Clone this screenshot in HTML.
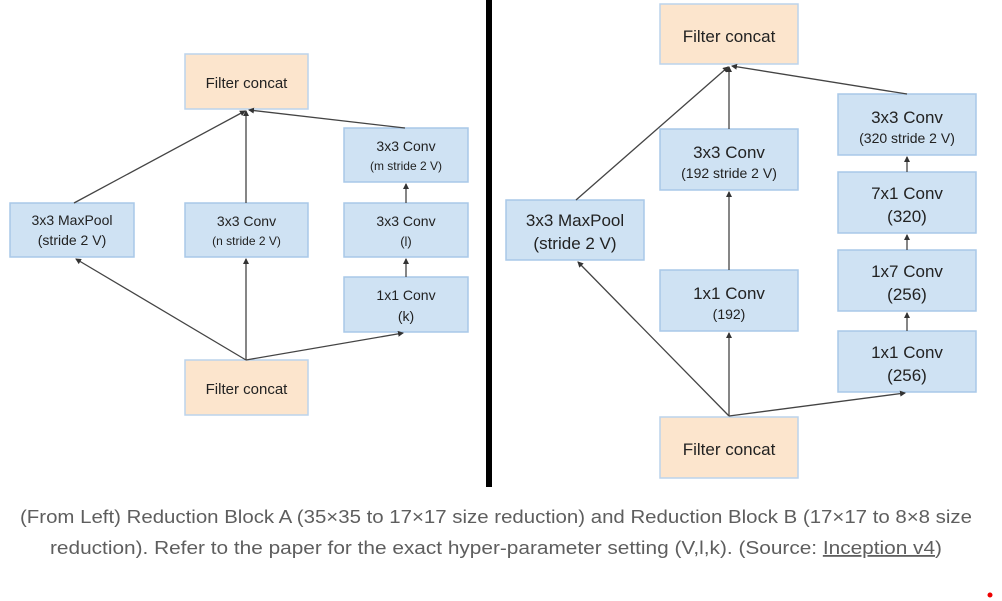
<!DOCTYPE html>
<html><head><meta charset="utf-8"><style>
html,body{margin:0;padding:0;background:#fff;}
svg{display:block;}
text{font-family:"Liberation Sans",Arial,sans-serif;fill:#222;}
.b{fill:#cfe2f3;stroke:#a9c8e8;stroke-width:1.5;}
.o{fill:#fce5cd;stroke:#bcd3ec;stroke-width:1.5;}
.l{stroke:#444;stroke-width:1.3;fill:none;marker-end:url(#a);}
</style></head><body>
<svg width="1002" height="601" viewBox="0 0 1002 601">
<defs><marker id="a" markerWidth="6" markerHeight="6" refX="5" refY="3" orient="auto" markerUnits="userSpaceOnUse"><path d="M0,0 L6,3 L0,6z" fill="#333"/></marker></defs>
<!-- LEFT -->
<rect class="o" x="185" y="54" width="123" height="55"/>
<text x="246.5" y="88" font-size="15" text-anchor="middle">Filter concat</text>
<rect class="b" x="10" y="203" width="124" height="54"/>
<text x="72" y="225" font-size="14" text-anchor="middle">3x3 MaxPool</text>
<text x="72" y="245" font-size="14" text-anchor="middle">(stride 2 V)</text>
<rect class="b" x="185" y="203" width="123" height="54"/>
<text x="246.5" y="226" font-size="14" text-anchor="middle">3x3 Conv</text>
<text x="246.5" y="245" font-size="12" text-anchor="middle">(n stride 2 V)</text>
<rect class="b" x="344" y="128" width="124" height="54"/>
<text x="406" y="151" font-size="14" text-anchor="middle">3x3 Conv</text>
<text x="406" y="170" font-size="12" text-anchor="middle">(m stride 2 V)</text>
<rect class="b" x="344" y="203" width="124" height="54"/>
<text x="406" y="226" font-size="14" text-anchor="middle">3x3 Conv</text>
<text x="406" y="246" font-size="13" text-anchor="middle">(l)</text>
<rect class="b" x="344" y="277" width="124" height="55"/>
<text x="406" y="300" font-size="14" text-anchor="middle">1x1 Conv</text>
<text x="406" y="321" font-size="14" text-anchor="middle">(k)</text>
<rect class="o" x="185" y="360" width="123" height="55"/>
<text x="246.5" y="394" font-size="15" text-anchor="middle">Filter concat</text>
<path class="l" d="M74,203 L245,111"/>
<path class="l" d="M246,203 L246,111"/>
<path class="l" d="M405,128 L249,110"/>
<path class="l" d="M406,203 L406,184"/>
<path class="l" d="M406,277 L406,259"/>
<path class="l" d="M246,360 L76,259"/>
<path class="l" d="M246,360 L246,259"/>
<path class="l" d="M246,360 L403,333"/>
<!-- divider -->
<rect x="486" y="0" width="6" height="487" fill="#000"/>
<!-- RIGHT -->
<rect class="o" x="660" y="4" width="138" height="60"/>
<text x="729" y="42" font-size="17" text-anchor="middle">Filter concat</text>
<rect class="b" x="506" y="200" width="138" height="60"/>
<text x="575" y="226" font-size="17" text-anchor="middle">3x3 MaxPool</text>
<text x="575" y="249" font-size="17" text-anchor="middle">(stride 2 V)</text>
<rect class="b" x="660" y="129" width="138" height="61"/>
<text x="729" y="158" font-size="17" text-anchor="middle">3x3 Conv</text>
<text x="729" y="178" font-size="14" text-anchor="middle">(192 stride 2 V)</text>
<rect class="b" x="660" y="270" width="138" height="61"/>
<text x="729" y="299" font-size="17" text-anchor="middle">1x1 Conv</text>
<text x="729" y="319" font-size="14" text-anchor="middle">(192)</text>
<rect class="b" x="838" y="94" width="138" height="61"/>
<text x="907" y="123" font-size="17" text-anchor="middle">3x3 Conv</text>
<text x="907" y="143" font-size="14" text-anchor="middle">(320 stride 2 V)</text>
<rect class="b" x="838" y="172" width="138" height="61"/>
<text x="907" y="199" font-size="17" text-anchor="middle">7x1 Conv</text>
<text x="907" y="222" font-size="17" text-anchor="middle">(320)</text>
<rect class="b" x="838" y="250" width="138" height="61"/>
<text x="907" y="277" font-size="17" text-anchor="middle">1x7 Conv</text>
<text x="907" y="300" font-size="17" text-anchor="middle">(256)</text>
<rect class="b" x="838" y="331" width="138" height="61"/>
<text x="907" y="358" font-size="17" text-anchor="middle">1x1 Conv</text>
<text x="907" y="381" font-size="17" text-anchor="middle">(256)</text>
<rect class="o" x="660" y="417" width="138" height="61"/>
<text x="729" y="455" font-size="17" text-anchor="middle">Filter concat</text>
<path class="l" d="M576,200 L728,67"/>
<path class="l" d="M729,129 L729,67"/>
<path class="l" d="M907,94 L732,66"/>
<path class="l" d="M907,172 L907,157"/>
<path class="l" d="M907,250 L907,235"/>
<path class="l" d="M907,331 L907,313"/>
<path class="l" d="M729,270 L729,192"/>
<path class="l" d="M729,416 L578,262"/>
<path class="l" d="M729,416 L729,333"/>
<path class="l" d="M729,416 L905,393"/>
<!-- caption -->
<text x="20" y="523" font-size="18" style="fill:#5e5e5e" textLength="952" lengthAdjust="spacingAndGlyphs">(From Left) Reduction Block A (35×35 to 17×17 size reduction) and Reduction Block B (17×17 to 8×8 size</text>
<text x="50" y="554" font-size="18" style="fill:#5e5e5e" textLength="892" lengthAdjust="spacingAndGlyphs">reduction). Refer to the paper for the exact hyper-parameter setting (V,l,k). (Source: <tspan text-decoration="underline">Inception v4</tspan>)</text>
<circle cx="990" cy="595" r="2.5" fill="#e00"/>
</svg>
</body></html>
